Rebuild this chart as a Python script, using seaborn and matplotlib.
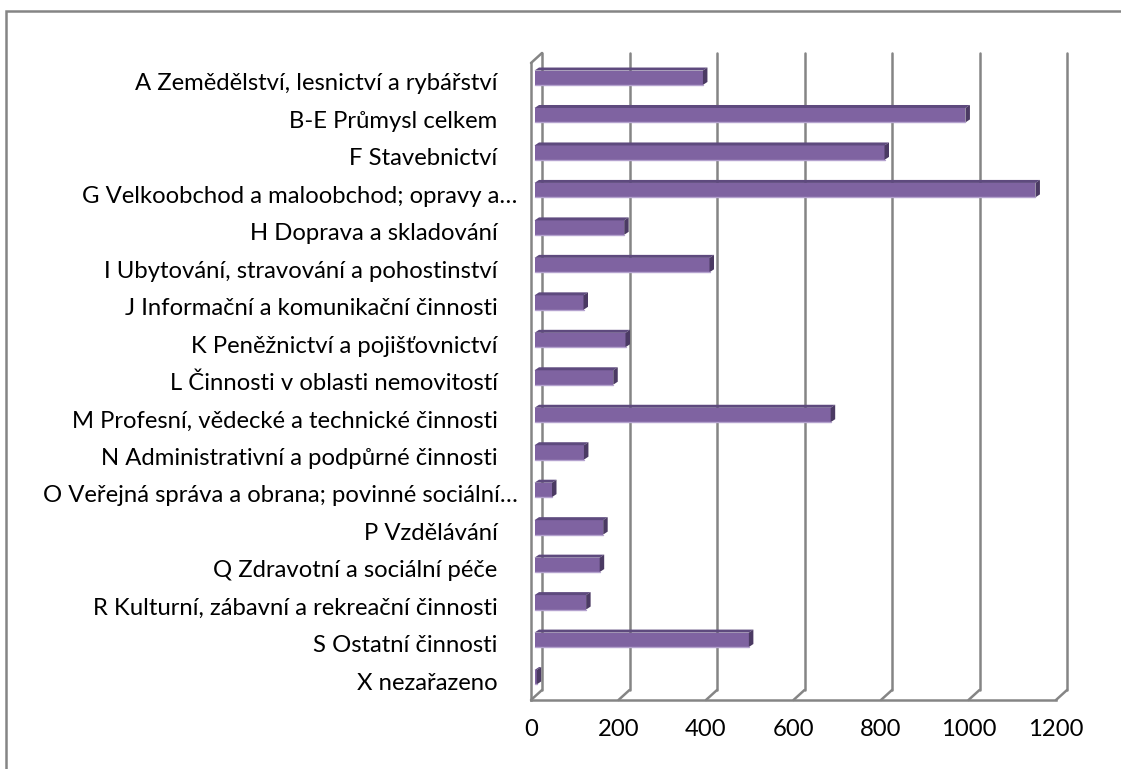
import matplotlib
matplotlib.use('Agg')
import matplotlib.pyplot as plt
from matplotlib.patches import Polygon, Rectangle
from matplotlib.transforms import offset_copy, ScaledTranslation
import seaborn as sns
import pandas as pd

categories = [
    'A Zemědělství, lesnictví a rybářství',
    'B-E Průmysl celkem',
    'F Stavebnictví',
    'G Velkoobchod a maloobchod; opravy a…',
    'H Doprava a skladování',
    'I Ubytování, stravování a pohostinství',
    'J Informační a komunikační činnosti',
    'K Peněžnictví a pojišťovnictví',
    'L Činnosti v oblasti nemovitostí',
    'M Profesní, vědecké a technické činnosti',
    'N Administrativní a podpůrné činnosti',
    'O Veřejná správa a obrana; povinné sociální…',
    'P Vzdělávání',
    'Q Zdravotní a sociální péče',
    'R Kulturní, zábavní a rekreační činnosti',
    'S Ostatní činnosti',
    'X nezařazeno',
]
values = [385, 985, 800, 1145, 205, 400, 112, 208, 180, 677, 113, 40, 157, 149, 118, 490, 5]
x_ticks = [0, 200, 400, 600, 800, 1000, 1200]

GRAY = '#858585'
FRONT = '#7F63A1'
TOP = '#5E4A7E'
SIDE = '#4B3A63'

sns.set_style('white')
plt.rcParams['font.family'] = ['Lato', 'DejaVu Sans']

W, H = 1121, 769
fig = plt.figure(figsize=(W / 100, H / 100), dpi=100)
# front plane of the plot area in pixels
left_px, right_px, top_px, bot_px = 531, 1056, 63, 700
ax = fig.add_axes([left_px / W, (H - bot_px) / H,
                   (right_px - left_px) / W, (bot_px - top_px) / H])

df = pd.DataFrame({'Kategorie': categories, 'Počet': values})
sns.barplot(data=df, x='Počet', y='Kategorie', orient='h', color=FRONT,
            saturation=1, width=0.385, ax=ax, zorder=3)

n = len(categories)
ax.set_xlim(0, 1200)
ax.set_ylim(n - 0.5, -0.5)

# pixel -> data conversions
px2x = 1200 / (right_px - left_px)
px2y = n / (bot_px - top_px)

# back wall with gridlines (pseudo 3D)
bdx, bdy = 11 * px2x, 10 * px2y
for v in x_ticks:
    ax.plot([v + bdx, v + bdx], [n - 0.5 - bdy, -0.5 - bdy], color=GRAY,
            lw=1.8, clip_on=False, zorder=1)
    ax.plot([v, v + bdx], [n - 0.5, n - 0.5 - bdy], color=GRAY,
            lw=1.8, clip_on=False, zorder=1)
ax.plot([0, bdx], [-0.5, -0.5 - bdy], color=GRAY, lw=1.8, clip_on=False, zorder=1)

# 3D bars: shift front face, add top and side faces
shift = offset_copy(ax.transData, fig=fig, x=3.5, y=4, units='dots')
ddx, ddy = 4.5 * px2x, 3 * px2y
for bar in ax.patches[:n]:
    bar.set_transform(shift)
    bar.set_edgecolor('none')
    x0, y0 = bar.get_x(), bar.get_y()
    x1, y1 = x0 + bar.get_width(), y0 + bar.get_height()
    top = Polygon([(x0, y0), (x1, y0), (x1 + ddx, y0 - ddy), (x0 + ddx, y0 - ddy)],
                  closed=True, facecolor=TOP, edgecolor='none', transform=shift,
                  zorder=3, clip_on=False)
    side = Polygon([(x1, y0), (x1 + ddx, y0 - ddy), (x1 + ddx, y1 - ddy), (x1, y1)],
                   closed=True, facecolor=SIDE, edgecolor='none', transform=shift,
                   zorder=3, clip_on=False)
    ax.add_patch(top)
    ax.add_patch(side)
    ax.plot([x0, x1], [y1, y1], color='#B4A2CE', lw=1, transform=shift, zorder=4)

# axes styling
for s in ['top', 'right']:
    ax.spines[s].set_visible(False)
for s in ['left', 'bottom']:
    ax.spines[s].set_color(GRAY)
    ax.spines[s].set_linewidth(1.8)
    ax.spines[s].set_zorder(2)

ax.set_xticks(x_ticks)
ax.set_xticklabels([str(t) for t in x_ticks])
ax.tick_params(axis='x', direction='out', length=6, width=1.8, color=GRAY,
               labelsize=17.2, pad=8, labelcolor='#000000')
ax.set_yticks(range(n))
ax.set_yticks([i - 0.5 for i in range(n + 1)], minor=True)
ax.tick_params(axis='y', which='major', length=0, pad=24, labelsize=17.2,
               labelcolor='#000000')
ax.tick_params(axis='y', which='minor', direction='out', length=5, width=1.8,
               color=GRAY)
ax.set_xlabel('')
ax.set_ylabel('')

# truncated labels reach closer to the axis
for lab in ax.get_yticklabels():
    if lab.get_text().endswith('…'):
        lab.set_transform(lab.get_transform() + ScaledTranslation(0.2, 0, fig.dpi_scale_trans))

# outer chart frame
fig.add_artist(Rectangle((6 / W, -0.1), 1.2, 1.1 - 11 / H, transform=fig.transFigure,
                         fill=False, edgecolor=GRAY, lw=1.8))

fig.savefig('out.png', dpi=100)
